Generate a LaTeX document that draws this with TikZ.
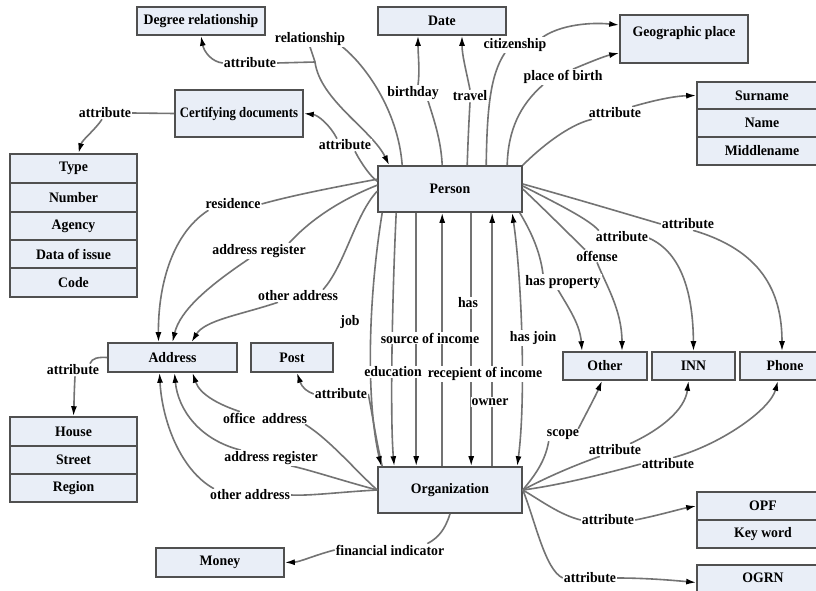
\documentclass[tikz,border=0pt]{standalone}
\usepackage{fontspec}
\setmainfont{Liberation Serif}
\newfontfamily\diafont{Liberation Serif}[FakeStretch=0.95]
\newfontfamily\diafontc{Liberation Serif}[FakeStretch=0.88]
\usetikzlibrary{arrows.meta}
\pgfdeclarelayer{fg}
\pgfsetlayers{main,fg}
\definecolor{boxfill}{RGB}{233,238,247}
\definecolor{boxline}{RGB}{80,80,80}
\definecolor{edgec}{RGB}{115,115,115}
\tikzset{
 box/.style={draw=boxline, fill=boxfill, line width=1.6pt, inner sep=0pt,
   font=\diafont\fontsize{14.5}{16}\selectfont\bfseries},
 lbl/.style={font=\diafont\fontsize{14.5}{16}\selectfont\bfseries, inner sep=1pt, fill=white},
 edge/.style={draw=edgec, line width=1.6pt},
 arr/.style={edge, -{Latex[length=10pt,width=6pt,color=black]}},
 twoarr/.style={edge, {Latex[length=10pt,width=6pt,color=black]}-{Latex[length=10pt,width=6pt,color=black]}},
}
\begin{document}
\begin{tikzpicture}[x=1pt,y=-1pt]
\clip (0,0) rectangle (816,591);
\fill[white] (0,0) rectangle (816,591);

% ---------- boxes ----------
\node[box, minimum width=144pt, minimum height=46pt] (person) at (450,189) {Person};
\node[box, minimum width=144pt, minimum height=46pt] (org) at (450,490) {Organization};
\node[box, minimum width=128pt, minimum height=28pt] (degree) at (201,21) {Degree relationship};
\node[box, minimum width=128pt, minimum height=28pt] (date) at (442,21) {Date};
\node[box, minimum width=128pt, minimum height=48pt, text height=10pt, text depth=14.6pt] (geo) at (684,39) {Geographic place};
\node[box, minimum width=128pt, minimum height=47pt, font=\diafontc\fontsize{14.5}{16}\selectfont\bfseries] (cert) at (239,113.5) {Certifying documents};

\node[box, minimum width=127pt, minimum height=29pt] (type) at (73.5,168.5) {Type};
\node[box, minimum width=127pt, minimum height=29pt] (number) at (73.5,197.5) {Number};
\node[box, minimum width=127pt, minimum height=28pt] (agency) at (73.5,226) {Agency};
\node[box, minimum width=127pt, minimum height=28pt] (issue) at (73.5,254) {Data of issue};
\node[box, minimum width=127pt, minimum height=29pt] (code) at (73.5,282.5) {Code};

\node[box, minimum width=130pt, minimum height=27pt] (surname) at (762,95.5) {Surname};
\node[box, minimum width=130pt, minimum height=28pt] (name) at (762,123) {Name};
\node[box, minimum width=130pt, minimum height=28pt] (middle) at (762,151) {Middlename};

\node[box, minimum width=129pt, minimum height=29pt] (addr) at (172.5,357.5) {Address};
\node[box, minimum width=82pt, minimum height=29pt] (post) at (292,357.5) {Post};
\node[box, minimum width=84pt, minimum height=28pt] (other) at (605,366) {Other};
\node[box, minimum width=83pt, minimum height=28pt] (inn) at (693.5,366) {INN};
\node[box, minimum width=90pt, minimum height=28pt] (phone) at (785,366) {Phone};

\node[box, minimum width=127pt, minimum height=29pt] (house) at (73.5,431.5) {House};
\node[box, minimum width=127pt, minimum height=28pt] (street) at (73.5,460) {Street};
\node[box, minimum width=127pt, minimum height=28pt] (region) at (73.5,488) {Region};

\node[box, minimum width=128pt, minimum height=29pt] (money) at (220,562.5) {Money};
\node[box, minimum width=132pt, minimum height=28pt] (opf) at (763,506) {OPF};
\node[box, minimum width=132pt, minimum height=28pt] (keyword) at (763,534) {Key word};
\node[box, minimum width=132pt, minimum height=35pt, text height=10pt, text depth=11pt] (ogrn) at (763,582.5) {OGRN};

% ---------- labels ----------
\begin{pgfonlayer}{fg}
\node[lbl] (lrel) at (310,39) {relationship};
\node[lbl] (lat1) at (250,63) {attribute};
\node[lbl] (lbday) at (413,93) {birthday};
\node[lbl] (ltrav) at (470,96) {travel};
\node[lbl] (lcit) at (515,45) {citizenship};
\node[lbl] (lpob) at (563,77) {place of birth};
\node[lbl] (lat2) at (615,113) {attribute};
\node[lbl] (lat3) at (345,145) {attribute};
\node[lbl] (lat4) at (105,113) {attribute};
\node[lbl] (lres) at (233,204) {residence};
\node[lbl] (lar1) at (259,251) {address register};
\node[lbl] (loa1) at (298,296) {other address};
\node[lbl] (lat5) at (73,370) {attribute};
\node[lbl] (loff) at (265,418) {office~ address};
\node[lbl] (lar2) at (271,458) {address register};
\node[lbl] (loa2) at (250,495) {other address};
\node[lbl] (lat6) at (341,394) {attribute};
\node[lbl] (lfin) at (390,550) {financial indicator};
\node[lbl] (lhp) at (563,282) {has property};
\node[lbl] (loffense) at (597,256) {offense};
\node[lbl] (lat7) at (622,237) {attribute};
\node[lbl] (lat8) at (688,224) {attribute};
\node[lbl] (lscope) at (563,435) {scope};
\node[lbl] (lat9) at (615,450) {attribute};
\node[lbl] (lat10) at (668,464) {attribute};
\node[lbl] (lat11) at (608,520) {attribute};
\node[lbl] (lat12) at (590,578) {attribute};
\node[lbl] (ljob) at (350,322) {job};
\node[lbl] (ledu) at (393,372) {education};
\node[lbl] (lsrc) at (430,338) {source of income};
\node[lbl] (lrec) at (485,374) {recepient of income};
\node[lbl] (lhas) at (468,303) {has};
\node[lbl] (lown) at (490,402) {owner};
\node[lbl] (lhj) at (533,338) {has join};
\end{pgfonlayer}

\coordinate (relj) at (315,62);

% ---------- edges: Person top ----------
\draw[edge] ([xshift=25pt]person.north west) .. controls (398,110) and (365,65) .. ([xshift=-4pt]lrel.south east);
\draw[edge] (lrel.south) -- (relj);
\draw[arr] (relj) .. controls (320,100) and (372,130) .. ([xshift=12pt]person.north west);
\draw[edge] (relj) -- (lat1.east);
\draw[arr] (lat1.west) .. controls (212,62) and (204,52) .. (degree.south);

\draw[edge] ([xshift=65pt]person.north west) .. controls (441,140) and (434,120) .. ([xshift=15pt]lbday.south);
\draw[arr] ([xshift=5pt]lbday.north) .. controls (420,70) and (418,55) .. ([xshift=-24pt]date.south);
\draw[edge] ([xshift=90pt]person.north west) .. controls (468,140) and (469,120) .. (ltrav.south);
\draw[arr] (ltrav.north) .. controls (466,70) and (462,55) .. ([xshift=20pt]date.south);
\draw[edge] ([xshift=109pt]person.north west) .. controls (487,110) and (490,75) .. ([xshift=-10pt]lcit.south);
\draw[arr] ([xshift=-5pt]lcit.north east) .. controls (560,25) and (590,22) .. ([yshift=14pt]geo.west);
\draw[edge] ([xshift=130pt]person.north west) .. controls (508,130) and (520,105) .. ([xshift=-20pt]lpob.south);
\draw[arr] ([xshift=10pt]lpob.north) .. controls (590,62) and (605,56) .. ([yshift=-14pt]geo.west);
\draw[edge] (person.north east) .. controls (540,148) and (568,125) .. ([xshift=4pt]lat2.south west);
\draw[arr] ([xshift=-10pt]lat2.north east) .. controls (655,100) and (675,96) .. (surname.west);

% ---------- Certifying documents ----------
\draw[edge] ([yshift=-16pt]person.north west) .. controls (372,178) and (362,165) .. ([xshift=10pt]lat3.south);
\draw[arr] ([xshift=-8pt]lat3.north) .. controls (330,125) and (318,115) .. (cert.east);
\draw[edge] (cert.west) -- (lat4.east);
\draw[arr] ([xshift=-3pt]lat4.south) .. controls (95,130) and (82,140) .. ([xshift=5pt]type.north);

% ---------- Person -> Address ----------
\draw[edge] ([yshift=-14pt]person.north west) .. controls (330,188) and (290,196) .. (lres.east);
\draw[arr] ([xshift=4pt]lres.south west) .. controls (170,235) and (158,290) .. ([xshift=-14pt]addr.north);
\draw[edge] ([yshift=-20pt]person.north west) .. controls (340,200) and (310,220) .. ([xshift=30pt]lar1.north);
\draw[arr] ([xshift=-10pt]lar1.south) .. controls (210,285) and (180,310) .. (addr.north);
\draw[edge] ([yshift=-26pt]person.north west) .. controls (355,215) and (345,265) .. ([xshift=25pt]loa1.north);
\draw[arr] ([xshift=-20pt]loa1.south) .. controls (240,315) and (205,320) .. ([xshift=19pt]addr.north);
\draw[edge] (addr.west) .. controls (98,357) and (92,358) .. ([xshift=17pt]lat5.north);
\draw[arr] ([xshift=2pt]lat5.south) .. controls (74,395) and (74,405) .. (house.north);

% ---------- Organization -> Address, Post, Money ----------
\draw[edge] (org.west) .. controls (355,470) and (330,440) .. ([xshift=-3pt]loff.south east);
\draw[arr] ([xshift=-25pt]loff.north) .. controls (220,405) and (200,395) .. ([xshift=20pt]addr.south);
\draw[edge] (org.west) .. controls (340,480) and (310,470) .. ([xshift=20pt]lar2.south);
\draw[arr] ([xshift=-30pt]lar2.north) .. controls (200,440) and (178,410) .. ([xshift=2pt]addr.south);
\draw[edge] (org.west) .. controls (340,492) and (310,496) .. (loa2.east);
\draw[arr] ([xshift=5pt]loa2.north west) .. controls (180,470) and (162,420) .. ([xshift=-13pt]addr.south);
\draw[edge] ([xshift=5pt]org.north west) .. controls (376,440) and (372,412) .. (lat6.east);
\draw[arr] (lat6.west) .. controls (308,392) and (302,388) .. ([xshift=5pt]post.south);
\draw[edge] (org.south) .. controls (445,530) and (438,538) .. ([xshift=-18pt]lfin.north east);
\draw[arr] (lfin.west) .. controls (315,555) and (300,562) .. (money.east);

% ---------- Person -> Other, INN, Phone ----------
\draw[edge] ([xshift=-3pt]person.south east) .. controls (530,230) and (540,250) .. ([xshift=-20pt]lhp.north);
\draw[arr] ([xshift=-5pt]lhp.south) .. controls (570,310) and (580,325) .. ([xshift=-23pt]other.north);
\draw[edge] (person.east) .. controls (545,210) and (570,235) .. ([xshift=-12pt]loffense.north);
\draw[arr] (loffense.south) .. controls (606,285) and (622,310) .. ([xshift=17pt]other.north);
\draw[edge] ([yshift=3pt]person.east) .. controls (560,205) and (590,220) .. ([xshift=4pt]lat7.north west);
\draw[arr] ([xshift=-3pt]lat7.east) .. controls (680,250) and (693,290) .. (inn.north);
\draw[edge] ([yshift=5pt]person.east) .. controls (580,200) and (630,215) .. (lat8.west);
\draw[arr] ([xshift=5pt]lat8.south) .. controls (760,250) and (782,290) .. ([xshift=-3pt]phone.north);

% ---------- Organization -> right ----------
\draw[edge] (org.east) .. controls (535,475) and (545,462) .. ([xshift=3pt]lscope.south west);
\draw[arr] ([xshift=-2pt]lscope.north east) .. controls (588,410) and (596,395) .. ([xshift=-3pt]other.south);
\draw[edge] (org.east) .. controls (545,478) and (575,465) .. ([xshift=-15pt]lat9.south);
\draw[arr] ([xshift=15pt]lat9.north) .. controls (660,430) and (685,410) .. ([xshift=-5pt]inn.south);
\draw[edge] (org.east) .. controls (560,485) and (600,475) .. (lat10.west);
\draw[arr] ([xshift=5pt]lat10.north) .. controls (720,445) and (770,410) .. ([xshift=-7pt]phone.south);
\draw[edge] (org.east) .. controls (540,500) and (560,515) .. (lat11.west);
\draw[arr] (lat11.east) .. controls (660,515) and (680,509) .. (opf.west);
\draw[edge] (org.east) .. controls (535,520) and (545,570) .. (lat12.west);
\draw[arr] (lat12.east) .. controls (650,578) and (680,581) .. (ogrn.west);

% ---------- Person <-> Organization ----------
\draw[arr] ([xshift=5pt]person.south west) .. controls (368,300) and (366,400) .. ([xshift=4pt]org.north west);
\draw[arr] ([xshift=19pt]person.south west) .. controls (392,300) and (390,420) .. ([xshift=17pt]org.north west);
\draw[arr] ([xshift=39pt]person.south west) -- ([xshift=39pt]org.north west);
\draw[arr] ([xshift=65pt]org.north west) -- ([xshift=65pt]person.south west);
\draw[arr] ([xshift=94pt]person.south west) -- ([xshift=94pt]org.north west);
\draw[arr] ([xshift=115pt]org.north west) -- ([xshift=115pt]person.south west);
\draw[twoarr] ([xshift=135pt]person.south west) .. controls (522,280) and (526,400) .. ([xshift=140pt]org.north west);
\end{tikzpicture}
\end{document}
